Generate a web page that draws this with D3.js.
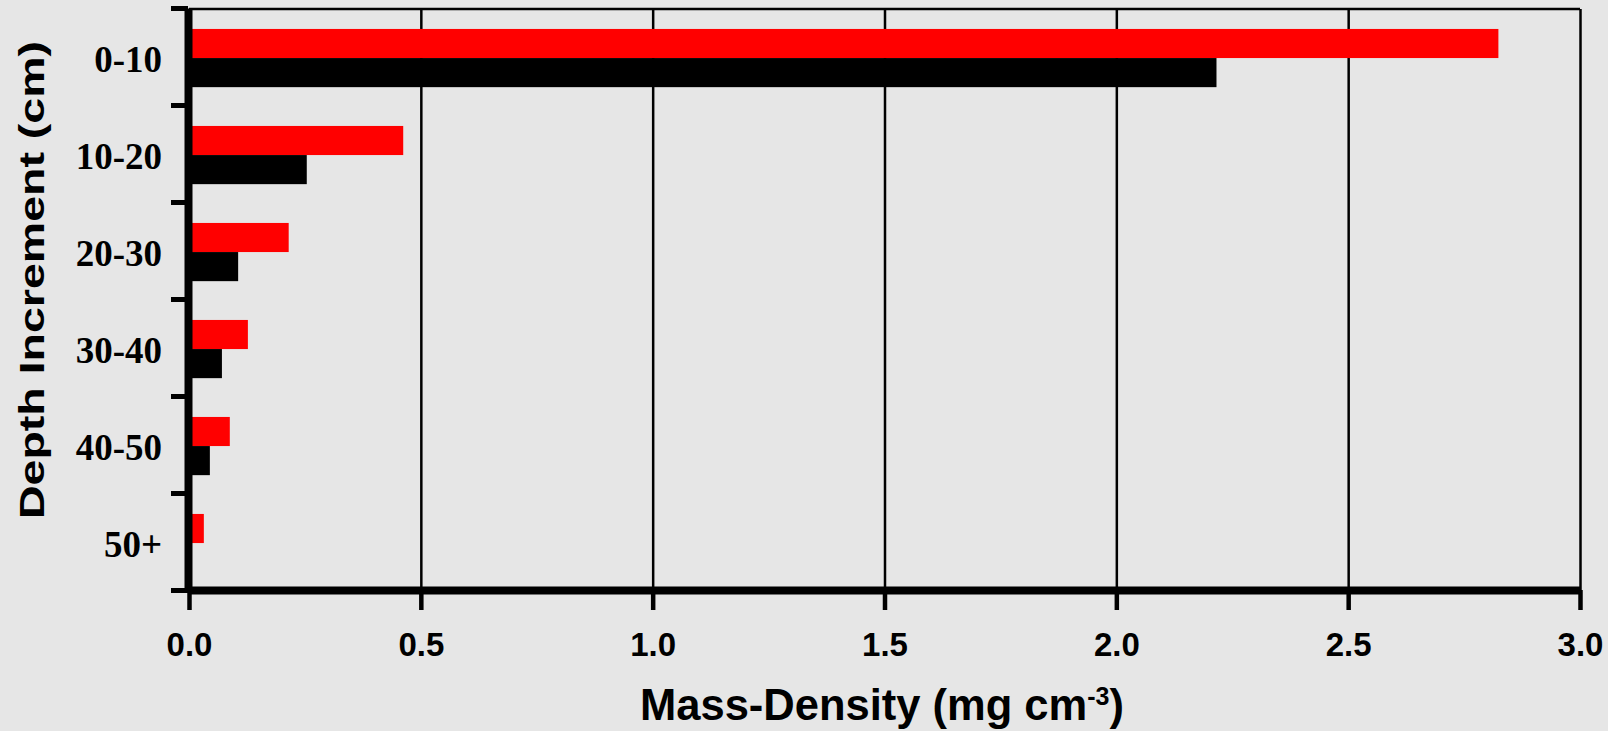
<!DOCTYPE html>
<html>
<head>
<meta charset="utf-8">
<script src="https://cdn.jsdelivr.net/npm/d3@7"></script>
<style>
    html, body { margin: 0; padding: 0; background: #e6e6e6; }
    svg { display: block; }
</style>
</head>
<body>
<div class="canvas"></div>
<script>
'use strict';

// depth increments (cm), top to bottom
const categories = ['0-10', '10-20', '20-30', '30-40', '40-50', '50+'];

// mass-density values (mg cm-3)
const redValues = [2.824, 0.462, 0.215, 0.127, 0.088, 0.032];
const blackValues = [2.216, 0.254, 0.106, 0.071, 0.045, 0];

const xTicks = [0, 0.5, 1.0, 1.5, 2.0, 2.5, 3.0];

const series = [
    { key: 'red', colour: '#ff0000', values: redValues },
    { key: 'black', colour: '#000000', values: blackValues }
];

const dimensions = { width: 1608, height: 731 };
const plot = { left: 189, right: 1580, top: 9, bottom: 590 };

const svg = d3.select('.canvas')
    .append('svg')
    .attr('width', dimensions.width)
    .attr('height', dimensions.height);

svg.append('rect')
    .attr('width', dimensions.width)
    .attr('height', dimensions.height)
    .attr('fill', '#e6e6e6');

const x = d3.scaleLinear()
    .domain([0, 3])
    .range([plot.left, plot.right]);

// category edges, used for the tick marks between the groups
const yEdge = d3.scaleLinear()
    .domain([0, categories.length])
    .range([plot.top - 1, plot.bottom]);

const yBand = d3.scaleBand()
    .domain(categories)
    .range([plot.top - 1, plot.bottom])
    .paddingInner(0.4)
    .paddingOuter(0.2)
    .align(0.54);

const yInner = d3.scaleBand()
    .domain(series.map(s => s.key))
    .range([0, yBand.bandwidth()]);

// vertical grid lines
const grid = svg.append('g')
    .attr('transform', `translate(0,${plot.bottom})`)
    .call(d3.axisBottom(x).tickValues(xTicks.slice(1)).tickSize(-(plot.bottom - plot.top)).tickFormat(''));
grid.select('.domain').remove();
grid.selectAll('line').attr('stroke', '#000').attr('stroke-width', 2.5);

// top frame
svg.append('line')
    .attr('x1', x(0)).attr('x2', x(3))
    .attr('y1', plot.top).attr('y2', plot.top)
    .attr('stroke', '#000').attr('stroke-width', 2.5);

// bars
const groups = svg.append('g')
    .selectAll('g')
    .data(categories)
    .enter().append('g')
    .attr('transform', d => `translate(0,${yBand(d)})`);

groups.selectAll('rect')
    .data((d, i) => series.map(s => ({ key: s.key, colour: s.colour, value: s.values[i] })))
    .enter().append('rect')
    .attr('x', x(0))
    .attr('y', d => yInner(d.key))
    .attr('width', d => x(d.value) - x(0))
    .attr('height', yInner.bandwidth())
    .attr('fill', d => d.colour);

// x axis
const xAxis = svg.append('g')
    .attr('transform', `translate(0,${plot.bottom})`)
    .call(d3.axisBottom(x).tickValues(xTicks).tickFormat(d3.format('.1f')).tickSize(20).tickSizeOuter(0).tickPadding(23));
xAxis.select('.domain').attr('stroke', '#000').attr('stroke-width', 8);
xAxis.selectAll('.tick line').attr('stroke', '#000').attr('stroke-width', 4.5);
xAxis.selectAll('text')
    .attr('fill', '#000')
    .style('font-family', '"Liberation Sans", Arial, sans-serif')
    .style('font-weight', 'bold')
    .style('font-size', '33px');

// y axis: edge ticks
const yAxis = svg.append('g')
    .attr('transform', `translate(${plot.left - 1},0)`)
    .call(d3.axisLeft(yEdge).ticks(categories.length).tickSize(17).tickSizeOuter(0).tickFormat(''));
yAxis.select('.domain').attr('stroke', '#000').attr('stroke-width', 8);
yAxis.selectAll('.tick line').attr('stroke', '#000').attr('stroke-width', 5);

// y labels centred in each group
svg.append('g')
    .selectAll('text')
    .data(categories)
    .enter().append('text')
    .attr('x', 162)
    .attr('y', (d, i) => yEdge(i + 0.5) + 15)
    .attr('text-anchor', 'end')
    .style('font-family', '"Liberation Serif", "Times New Roman", serif')
    .style('font-weight', 'bold')
    .style('font-size', '37px')
    .text(d => d);

// axis titles
const xTitle = svg.append('text')
    .attr('x', 882)
    .attr('y', 720)
    .attr('text-anchor', 'middle')
    .style('font-family', '"Liberation Sans", Arial, sans-serif')
    .style('font-weight', 'bold')
    .style('font-size', '43.5px');
xTitle.append('tspan').text('Mass-Density (mg cm');
xTitle.append('tspan').attr('dy', -15).style('font-size', '25px').text('-3');
xTitle.append('tspan').attr('dy', 15).text(')');

svg.append('text')
    .attr('transform', 'translate(44,280) rotate(-90)')
    .attr('text-anchor', 'middle')
    .attr('textLength', 478)
    .attr('lengthAdjust', 'spacingAndGlyphs')
    .style('font-family', '"Liberation Sans", Arial, sans-serif')
    .style('font-weight', 'bold')
    .style('font-size', '35px')
    .text('Depth Increment (cm)');
</script>
</body>
</html>
